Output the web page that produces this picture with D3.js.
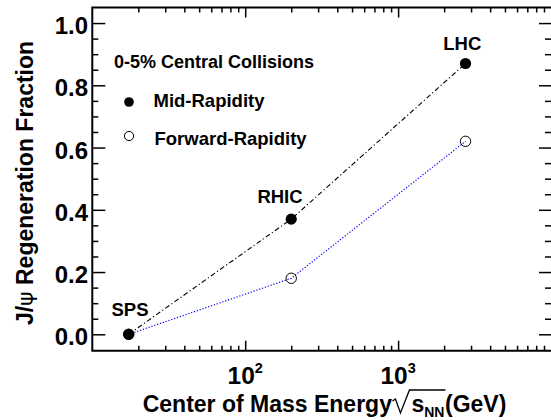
<!DOCTYPE html>
<html><head><meta charset="utf-8">
<script src="https://cdn.jsdelivr.net/npm/d3@7"></script>
<style>
html,body{margin:0;padding:0;background:#fff;overflow:hidden;}
svg{display:block;}
text{font-family:"Liberation Sans",Arial,Helvetica,sans-serif;font-weight:bold;fill:#000;}
</style></head>
<body><svg id="c" width="551" height="420"></svg>
<script>
// ---- data ----
const colliders = ["SPS", "RHIC", "LHC"];
const energies = [17.3, 200, 2760];
const midRapidity = [0.0, 0.37, 0.87];
const forwardRapidity = [0.0, 0.18, 0.62];
const yMajorTicks = [0.0, 0.2, 0.4, 0.6, 0.8, 1.0];
const yTickLabels = ["0.0", "0.2", "0.4", "0.6", "0.8", "1.0"];
const xMajorTicks = [100, 1000];
const xTickExponents = ["2", "3"];
const legendTitle = "0-5% Central Collisions";
const seriesNames = ["Mid-Rapidity", "Forward-Rapidity"];

// ---- layout ----
const L = 92.3, R = 551, T = 7.5, B = 350.7;
const svg = d3.select("#c");
const x = d3.scaleLog().domain([10, 10000]).range([L, R]);
const y = d3.scaleLinear().domain([-0.0527, 1.050]).range([B, T]);

const xMinor = [];
for (let d = 10; d < 10000; d *= 10) for (let k = 2; k <= 9; k++) xMinor.push(k * d);
const yMinor = d3.range(0, 1.0001, 0.05).filter(v => Math.abs(Math.round(v / 0.2) * 0.2 - v) > 1e-6);

function styleAxis(g) {
  g.select(".domain").remove();
  g.selectAll(".tick line").attr("stroke", "#000").attr("stroke-width", 1.5);
  g.selectAll(".tick text").remove();
}
// bottom axis
svg.append("g").attr("transform", `translate(0,${B})`)
  .call(d3.axisTop(x).tickValues(xMinor).tickSize(5).tickFormat("")).call(styleAxis);
svg.append("g").attr("transform", `translate(0,${B})`)
  .call(d3.axisTop(x).tickValues(xMajorTicks).tickSize(10).tickFormat("")).call(styleAxis);
// top axis
svg.append("g").attr("transform", `translate(0,${T})`)
  .call(d3.axisBottom(x).tickValues(xMinor).tickSize(5).tickFormat("")).call(styleAxis);
svg.append("g").attr("transform", `translate(0,${T})`)
  .call(d3.axisBottom(x).tickValues(xMajorTicks).tickSize(10).tickFormat("")).call(styleAxis);
// left axis
svg.append("g").attr("transform", `translate(${L},0)`)
  .call(d3.axisRight(y).tickValues(yMinor).tickSize(6).tickFormat("")).call(styleAxis);
svg.append("g").attr("transform", `translate(${L},0)`)
  .call(d3.axisRight(y).tickValues(yMajorTicks).tickSize(13).tickFormat("")).call(styleAxis);
// right axis
svg.append("g").attr("transform", `translate(${R},0)`)
  .call(d3.axisLeft(y).tickValues(yMinor).tickSize(6).tickFormat("")).call(styleAxis);
svg.append("g").attr("transform", `translate(${R},0)`)
  .call(d3.axisLeft(y).tickValues(yMajorTicks).tickSize(12).tickFormat("")).call(styleAxis);

// frame (right edge lies beyond the canvas)
svg.append("path").attr("d", `M${R},${T}H${L}V${B}H${R}`)
  .attr("fill", "none").attr("stroke", "#000").attr("stroke-width", 2);

// y tick labels
svg.selectAll(".ylab").data(yMajorTicks).enter().append("text")
  .attr("x", 88).attr("y", d => y(d) + 11).attr("text-anchor", "end")
  .attr("font-size", 24).text((d, i) => yTickLabels[i]);

// x tick labels with superscripts
xMajorTicks.forEach((v, i) => {
  const t = svg.append("text").attr("y", 383.5).attr("font-size", 24.5);
  t.append("tspan").text("10");
  t.append("tspan").attr("font-size", 14.5).attr("dy", -10.5).text(xTickExponents[i]);
  const w = t.node().getComputedTextLength();
  t.attr("x", x(v) - w / 2);
});

// axis titles
const yt = svg.append("text").attr("font-size", 23).attr("text-anchor", "middle")
  .attr("transform", `translate(33,183) rotate(-90)`);
yt.append("tspan").text("J/");
yt.append("tspan").attr("font-family", "'DejaVu Sans',sans-serif").attr("font-weight", "normal").attr("font-size", 22).text("ψ");
yt.append("tspan").text(" Regeneration Fraction");

const xt1 = svg.append("text").attr("x", 142.7).attr("y", 412).attr("font-size", 23).text("Center of Mass Energy");
const x0 = 142.7 + xt1.node().getComputedTextLength();
const rx = x0 + 0.5;
svg.append("path")
  .attr("d", `M${rx},${401} L${rx + 3},${399} L${rx + 8},${413} L${rx + 17},${390} H${rx + 53}`)
  .attr("fill", "none").attr("stroke", "#000").attr("stroke-width", 1.3);
const xt2 = svg.append("text").attr("x", rx + 19).attr("y", 412).attr("font-size", 23);
xt2.append("tspan").text("s");
xt2.append("tspan").attr("font-size", 14).attr("dy", 5).text("NN");
xt2.append("tspan").attr("dy", -5).attr("dx", 0.5).text("(GeV)");

// lines
const line = d3.line().x(d => x(d[0])).y(d => y(d[1]));
svg.append("path").datum(energies.map((e, i) => [e, forwardRapidity[i]]))
  .attr("d", line).attr("fill", "none").attr("stroke", "#0000ff")
  .attr("stroke-width", 1.2).attr("stroke-dasharray", "1.2,1.8");
svg.append("path").datum(energies.map((e, i) => [e, midRapidity[i]]))
  .attr("d", line).attr("fill", "none").attr("stroke", "#000")
  .attr("stroke-width", 1.1).attr("stroke-dasharray", "5,2.5,1.2,2.5");

// markers
svg.selectAll(".fw").data(energies).enter().append("circle")
  .attr("cx", d => x(d)).attr("cy", (d, i) => y(forwardRapidity[i])).attr("r", 5.2)
  .attr("fill", "none").attr("stroke", "#000").attr("stroke-width", 1);
svg.selectAll(".md").data(energies).enter().append("circle")
  .attr("cx", d => x(d)).attr("cy", (d, i) => y(midRapidity[i])).attr("r", 5.6)
  .attr("fill", "#000");

// point labels
const labelPos = [[130, 315.7], [280, 202.7], [462.3, 50]];
svg.selectAll(".plab").data(colliders).enter().append("text")
  .attr("x", (d, i) => labelPos[i][0]).attr("y", (d, i) => labelPos[i][1])
  .attr("text-anchor", "middle").attr("font-size", 18.5).text(d => d);

// legend
svg.append("text").attr("x", 114).attr("y", 68.3).attr("font-size", 18).text(legendTitle);
svg.append("circle").attr("cx", 129).attr("cy", 102).attr("r", 4.8).attr("fill", "#000");
svg.append("text").attr("x", 153.5).attr("y", 106.8).attr("font-size", 18.5).text(seriesNames[0]);
svg.append("circle").attr("cx", 129).attr("cy", 136).attr("r", 4.6).attr("fill", "none").attr("stroke", "#000").attr("stroke-width", 1);
svg.append("text").attr("x", 154.5).attr("y", 145).attr("font-size", 18.5).text(seriesNames[1]);
</script></body></html>
